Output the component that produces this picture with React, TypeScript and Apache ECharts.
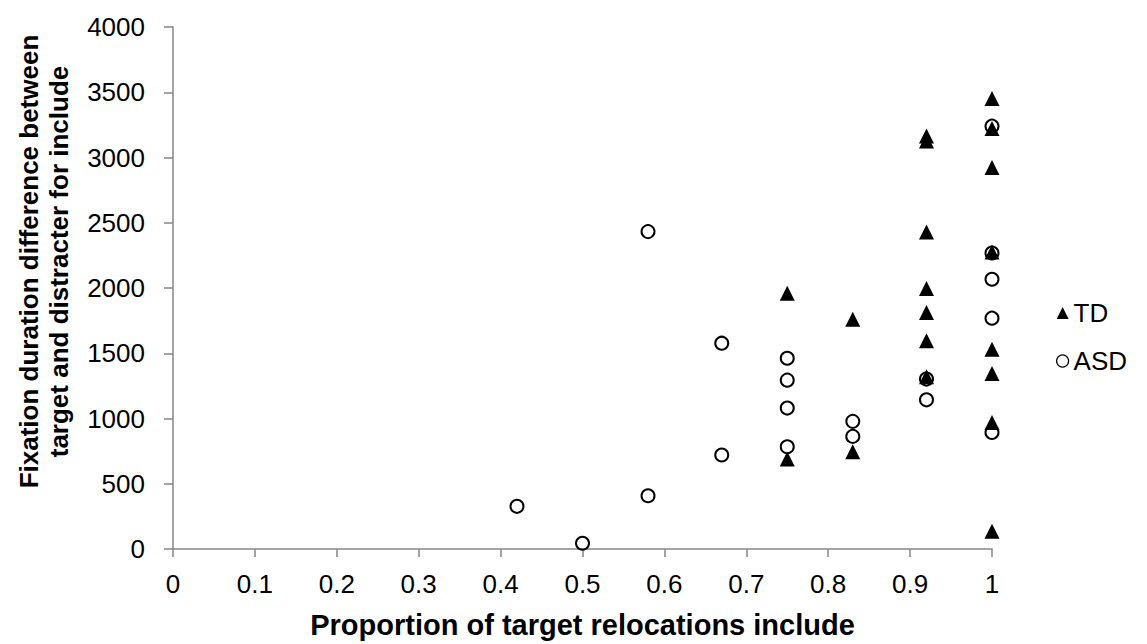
import React, { useEffect, useRef } from "react";
import * as echarts from "echarts";

const xTicks = { min: 0, max: 1, interval: 0.1 };
const yTicks = { min: 0, max: 4000, interval: 500 };

const tdPoints: [number, number][] = [
  [0.75, 1960], [0.75, 689],
  [0.83, 1761], [0.83, 745],
  [0.92, 3165], [0.92, 3126], [0.92, 2430], [0.92, 1996], [0.92, 1812], [0.92, 1595], [0.92, 1320],
  [1, 3453], [1, 3222], [1, 2923], [1, 2276], [1, 1531], [1, 1345], [1, 970], [1, 136],
];

const asdPoints: [number, number][] = [
  [0.42, 327],
  [0.5, 44],
  [0.58, 2432], [0.58, 408],
  [0.67, 1577], [0.67, 720],
  [0.75, 1462], [0.75, 1294], [0.75, 1080], [0.75, 783],
  [0.83, 978], [0.83, 863],
  [0.92, 1302], [0.92, 1143],
  [1, 3240], [1, 2268], [1, 2067], [1, 1769], [1, 893],
];

const seriesNames = ["TD", "ASD"];
const xTitle = "Proportion of target relocations include";
const yTitle = "Fixation duration difference between\ntarget and distracter for include";

const FONT = "Arial, 'Liberation Sans', sans-serif";
const AXIS_COLOR = "#868686";

export default function App() {
  const ref = useRef<HTMLDivElement>(null);
  useEffect(() => {
    document.body.style.margin = "0";
    if (!ref.current) return;
    const chart = echarts.init(ref.current, undefined, { renderer: "svg" });
    chart.setOption({
      animation: false,
      backgroundColor: "#ffffff",
      textStyle: { fontFamily: FONT },
      grid: { left: 173, right: 155, top: 27, bottom: 94, containLabel: false },
      legend: {
        orient: "vertical",
        left: 1056,
        top: 300,
        padding: 0,
        itemWidth: 12,
        itemHeight: 12,
        itemGap: 22,
        textStyle: { fontFamily: FONT, fontSize: 26, color: "#000", lineHeight: 26 },
        data: [
          { name: seriesNames[0], icon: "triangle", itemStyle: { color: "#000" } },
          {
            name: seriesNames[1],
            icon: "circle",
            itemStyle: { color: "rgba(0,0,0,0)", borderColor: "#000", borderWidth: 1.2 },
          },
        ],
      },
      xAxis: {
        type: "value",
        min: xTicks.min,
        max: xTicks.max,
        interval: xTicks.interval,
        name: xTitle,
        nameLocation: "middle",
        nameGap: 61,
        nameTextStyle: { fontFamily: FONT, fontSize: 29, fontWeight: "bold", color: "#000", verticalAlign: "top" },
        axisLine: { show: true, lineStyle: { color: AXIS_COLOR, width: 1.5 } },
        axisTick: { show: true, length: 8, lineStyle: { color: AXIS_COLOR, width: 1.5 } },
        axisLabel: { margin: 22, fontFamily: FONT, fontSize: 26, color: "#000", formatter: (v: number) => String(v) },
        splitLine: { show: false },
      },
      yAxis: {
        type: "value",
        min: yTicks.min,
        max: yTicks.max,
        interval: yTicks.interval,
        name: yTitle,
        nameLocation: "middle",
        nameRotate: 90,
        nameGap: 99,
        nameTextStyle: {
          fontFamily: FONT,
          fontSize: 26,
          fontWeight: "bold",
          color: "#000",
          lineHeight: 30,
          padding: [0, 0, 0, 53],
        },
        axisLine: { show: true, lineStyle: { color: AXIS_COLOR, width: 1.5 } },
        axisTick: { show: true, length: 9, lineStyle: { color: AXIS_COLOR, width: 1.5 } },
        axisLabel: { margin: 28, fontFamily: FONT, fontSize: 26, color: "#000", formatter: (v: number) => String(v) },
        splitLine: { show: false },
      },
      series: [
        {
          name: seriesNames[0],
          type: "scatter",
          symbol: "triangle",
          symbolSize: 15,
          itemStyle: { color: "#000", opacity: 1 },
          data: tdPoints,
        },
        {
          name: seriesNames[1],
          type: "scatter",
          symbol: "circle",
          symbolSize: 13,
          itemStyle: { color: "rgba(0,0,0,0)", borderColor: "#000", borderWidth: 2, opacity: 1 },
          data: asdPoints,
        },
      ],
    });
    return () => chart.dispose();
  }, []);
  return <div ref={ref} style={{ width: 1147, height: 644 }} />;
}
